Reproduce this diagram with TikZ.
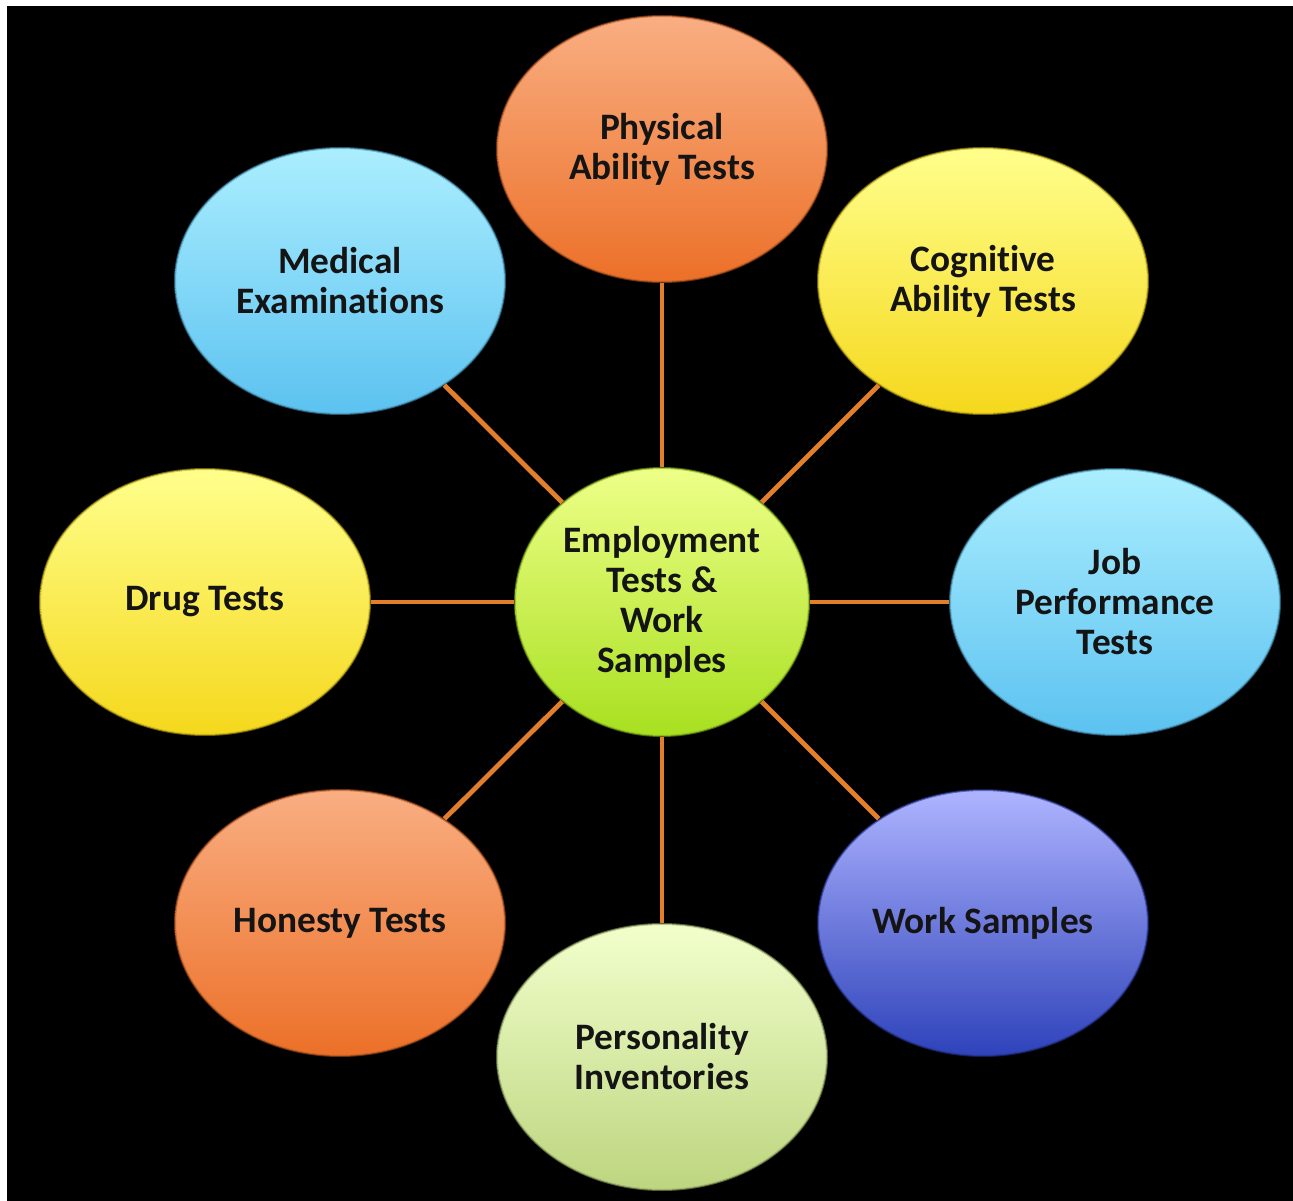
\documentclass[tikz,border=0pt]{standalone}
\usepackage{fontspec}
\setmainfont[RawFeature=-liga]{Carlito}
\usetikzlibrary{shapes.geometric}
\definecolor{txt}{HTML}{141414}
\definecolor{spokeorange}{HTML}{E37F2B}
\definecolor{physTop}{HTML}{F9AE82}
\definecolor{physBot}{HTML}{EC7028}
\definecolor{cogTop}{HTML}{FFFF8C}
\definecolor{cogBot}{HTML}{F5D81C}
\definecolor{medTop}{HTML}{ABEEFF}
\definecolor{medBot}{HTML}{5CC2F0}
\definecolor{workTop}{HTML}{AEB4FF}
\definecolor{workBot}{HTML}{2E42BA}
\definecolor{persTop}{HTML}{F2FFCC}
\definecolor{persBot}{HTML}{BDD57F}
\definecolor{empTop}{HTML}{EEFF88}
\definecolor{empBot}{HTML}{A8E020}
\begin{document}
\begin{tikzpicture}[x=0.75pt,y=-0.75pt,
  bubble/.style={ellipse, inner sep=0pt, minimum width=247.5pt, minimum height=199.5pt,
    align=center, font=\fontsize{28}{30}\selectfont\bfseries, text=txt,
    line width=1.5pt, draw opacity=0.6},
  spoke/.style={draw=spokeorange, line width=3.6pt}]
\useasboundingbox (0,0) rectangle (1293,1201);
\fill[white] (0,0) rectangle (1293,1201);
\fill[black] (7,6) rectangle (1293,1201);

\node[bubble, minimum width=220.5pt, minimum height=201pt, top color=empTop, bottom color=empBot, draw=empBot!75!black] (emp) at (662,602) {Employment\\Tests \&\\Work\\Samples};

\node[bubble, top color=physTop, bottom color=physBot, draw=physBot!75!black] (phys) at (662,149) {Physical\\Ability Tests};
\node[bubble, top color=cogTop, bottom color=cogBot, draw=cogBot!75!black] (cog) at (983,281) {Cognitive\\Ability Tests};
\node[bubble, top color=medTop, bottom color=medBot, draw=medBot!75!black] (med) at (340,281) {Medical\\Examinations};
\node[bubble, top color=cogTop, bottom color=cogBot, draw=cogBot!75!black] (drug) at (205,602) {Drug Tests};
\node[bubble, top color=medTop, bottom color=medBot, draw=medBot!75!black] (job) at (1115,602) {Job\\Performance\\Tests};
\node[bubble, top color=physTop, bottom color=physBot, draw=physBot!75!black] (hon) at (340,923) {Honesty Tests};
\node[bubble, top color=workTop, bottom color=workBot, draw=workBot!75!black] (work) at (983,923) {Work Samples};
\node[bubble, top color=persTop, bottom color=persBot, draw=persBot!75!black] (pers) at (662,1057) {Personality\\Inventories};

\foreach \t in {phys,cog,med,drug,job,hon,work,pers}
  \draw[spoke] (emp) -- (\t);
\end{tikzpicture}
\end{document}
